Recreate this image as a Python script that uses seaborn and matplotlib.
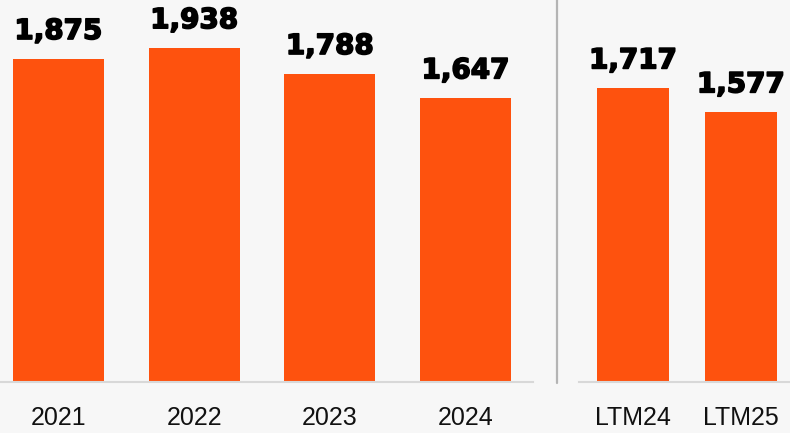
import matplotlib.pyplot as plt
import matplotlib.lines as mlines
import matplotlib.patheffects as pe
import pandas as pd
import seaborn as sns

years = ["2021", "2022", "2023", "2024"]
year_values = [1875, 1938, 1788, 1647]
ltm = ["LTM24", "LTM25"]
ltm_values = [1717, 1577]

BG = "#f7f7f7"
ORANGE = "#fe520e"

sns.set_theme(style="white")
plt.rcParams["font.family"] = ["Liberation Sans", "DejaVu Sans"]

fig = plt.figure(figsize=(7.9, 4.33), dpi=100, facecolor=BG)

bottom = 1 - 382 / 433
height = 382 / 433
ax_left = fig.add_axes([0, bottom, 533 / 790, height])
ax_right = fig.add_axes([579 / 790, bottom, 211 / 790, height])

df_left = pd.DataFrame({"cat": years, "val": year_values})
df_right = pd.DataFrame({"cat": ltm, "val": ltm_values})

heavy = [pe.Stroke(linewidth=1.2, foreground="#000000"), pe.Normal()]

for ax, df, xlim, ytop in [(ax_left, df_left, (-0.431, 3.497), 2217),
                           (ax_right, df_right, (-0.5, 1.454), 2233)]:
    sns.barplot(data=df, x="cat", y="val", color=ORANGE, saturation=1,
                width=0.67, linewidth=0, ax=ax)
    ax.set_facecolor(BG)
    ax.set_xlim(*xlim)
    ax.set_ylim(0, ytop)
    ax.set_xlabel("")
    ax.set_ylabel("")
    ax.set_yticks([])
    for side in ["top", "left", "right"]:
        ax.spines[side].set_visible(False)
    ax.spines["bottom"].set_color("#d8d8d8")
    ax.spines["bottom"].set_linewidth(1.5)
    ax.tick_params(axis="x", length=0, pad=17, labelsize=18, labelcolor="#111111")
    for cont in ax.containers:
        labels = ax.bar_label(cont, labels=[f"{v:,.0f}" for v in cont.datavalues],
                              padding=10, fontsize=20, fontweight="bold",
                              family="DejaVu Sans", color="#000000")
        for t in labels:
            t.set_path_effects(heavy)

fig.add_artist(mlines.Line2D([556.5 / 790, 556.5 / 790], [1 - 383 / 433, 1],
                             color="#b4b4b4", linewidth=1.6))

fig.savefig("out.png", dpi=100, facecolor=BG)
